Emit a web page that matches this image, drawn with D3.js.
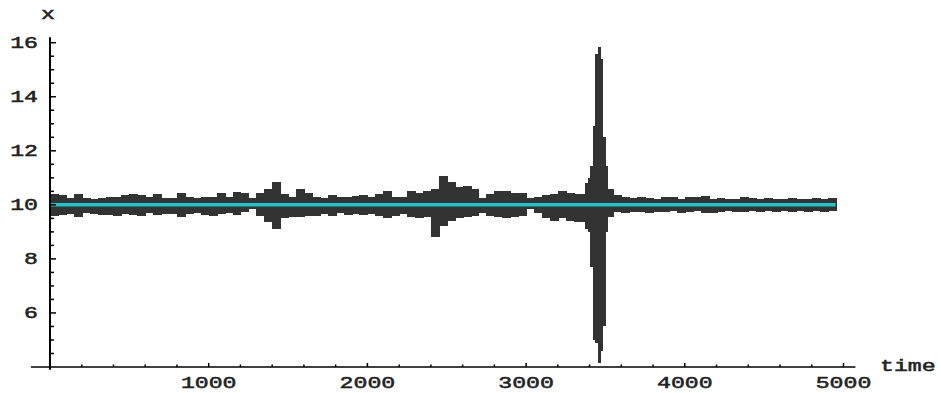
<!DOCTYPE html>
<html>
<head>
  <meta charset="utf-8">
  <title>x over time</title>
  <script src="https://d3js.org/d3.v7.min.js"></script>
  <style>
    body { margin: 0; background: #fff; }
    .lbl { font-family: "Liberation Mono", "DejaVu Sans Mono", monospace; font-size: 16px; fill: #222; stroke: #222; stroke-width: 0.5; }
  </style>
</head>
<body>
<div id="chart"></div>
<script>

// bin edges (time) of the dense signal, and its upper / lower envelope per bin
let time = [0, 50, 100, 150, 200, 250, 300, 350, 400, 450, 500, 550, 600, 650, 700, 750, 800, 850, 900, 950,
  1000, 1050, 1100, 1150, 1200, 1250, 1300, 1350, 1400, 1450, 1500, 1550, 1600, 1650, 1700, 1750, 1800, 1850, 1900, 1950,
  2000, 2050, 2100, 2150, 2200, 2250, 2300, 2350, 2400, 2450, 2500, 2550, 2600, 2650, 2700, 2750, 2800, 2850, 2900, 2950,
  3000, 3050, 3100, 3150, 3200, 3250, 3300, 3370, 3390, 3405, 3420, 3435, 3450, 3465, 3480, 3495, 3510, 3550,
  3600, 3650, 3700, 3750, 3800, 3850, 3900, 3950, 4000, 4050, 4100, 4150, 4200, 4250, 4300, 4350, 4400, 4450,
  4500, 4550, 4600, 4650, 4700, 4750, 4800, 4850, 4900, 4950];

let hi = [10.40, 10.35, 10.25, 10.40, 10.25, 10.22, 10.25, 10.28, 10.30, 10.38, 10.40, 10.35, 10.28, 10.40, 10.25, 10.25, 10.42, 10.28, 10.25, 10.30,
  10.28, 10.45, 10.30, 10.48, 10.45, 10.25, 10.45, 10.60, 10.85, 10.40, 10.30, 10.60, 10.45, 10.30, 10.25, 10.35, 10.30, 10.30, 10.32, 10.35,
  10.30, 10.40, 10.50, 10.30, 10.30, 10.50, 10.45, 10.50, 10.60, 11.05, 10.85, 10.65, 10.70, 10.60, 10.25, 10.40, 10.50, 10.50, 10.45, 10.45,
  10.25, 10.30, 10.35, 10.40, 10.50, 10.45, 10.40, 10.80, 11.00, 11.45, 12.90, 15.60, 15.85, 15.40, 12.50, 11.45, 10.60, 10.35,
  10.30, 10.25, 10.30, 10.25, 10.22, 10.28, 10.30, 10.22, 10.30, 10.28, 10.32, 10.22, 10.25, 10.20, 10.22, 10.28, 10.25, 10.20,
  10.25, 10.22, 10.20, 10.26, 10.20, 10.22, 10.26, 10.20, 10.25];

let lo = [9.60, 9.62, 9.65, 9.55, 9.68, 9.65, 9.62, 9.64, 9.60, 9.65, 9.62, 9.60, 9.68, 9.64, 9.66, 9.65, 9.55, 9.66, 9.68, 9.62,
  9.60, 9.65, 9.70, 9.62, 9.75, 9.85, 9.60, 9.35, 9.10, 9.50, 9.55, 9.55, 9.60, 9.60, 9.65, 9.60, 9.68, 9.62, 9.65, 9.62,
  9.65, 9.60, 9.50, 9.60, 9.65, 9.55, 9.50, 9.55, 8.80, 9.20, 9.40, 9.50, 9.55, 9.60, 9.70, 9.60, 9.55, 9.50, 9.55, 9.60,
  9.85, 9.70, 9.50, 9.40, 9.50, 9.40, 9.35, 9.10, 9.00, 7.70, 5.00, 4.90, 4.15, 4.60, 5.50, 9.00, 9.55, 9.75,
  9.70, 9.72, 9.75, 9.70, 9.75, 9.72, 9.78, 9.70, 9.72, 9.78, 9.70, 9.68, 9.75, 9.78, 9.75, 9.72, 9.78, 9.72,
  9.76, 9.74, 9.78, 9.72, 9.76, 9.74, 9.78, 9.72, 9.76];

// running level drawn in cyan
let levelTime = [0, 4950];
let level = [10, 10];

let xTicks = [1000, 2000, 3000, 4000, 5000];
let yTicks = [6, 8, 10, 12, 14, 16];

let width = 941,
    height = 393;

let x = d3.scaleLinear().domain([0, 5000]).range([50, 843.5]);
let y = d3.scaleLinear().domain([4, 16]).range([367, 42.7]);

let svg = d3.select("#chart").append("svg")
    .attr("width", width)
    .attr("height", height);

// dense signal as a filled high/low band
svg.append("g")
    .attr("shape-rendering", "crispEdges")
  .selectAll("rect")
    .data(hi)
  .enter().append("rect")
    .attr("x", function(d, i) { return x(time[i]); })
    .attr("width", function(d, i) { return x(time[i + 1]) - x(time[i]) + 1; })
    .attr("y", function(d) { return y(d); })
    .attr("height", function(d, i) { return y(lo[i]) - y(d); })
    .attr("fill", "#333");

svg.append("path")
    .datum(levelTime.map(function(t, i) { return [t, level[i]]; }))
    .attr("fill", "none")
    .attr("stroke", "#22c3c8")
    .attr("stroke-width", 3.5)
    .attr("d", d3.line().x(function(d) { return x(d[0]); }).y(function(d) { return y(d[1]); }));

// axes, drawn by hand to mimic the old plotting style
let ax = svg.append("g").attr("stroke", "#000");

ax.append("line")
    .attr("x1", x(0)).attr("x2", x(0))
    .attr("y1", y(16.2)).attr("y2", y(3.9))
    .attr("stroke-width", 2);

ax.append("line")
    .attr("x1", x(-120)).attr("x2", x(5075))
    .attr("y1", y(4)).attr("y2", y(4))
    .attr("stroke-width", 1.5);

// y ticks: major every 2, minor every 0.5
let yMinor = d3.range(4.5, 16.01, 0.5);
ax.selectAll(".ytick")
    .data(yMinor)
  .enter().append("line")
    .attr("x1", x(0))
    .attr("x2", function(d) { return x(0) + (d % 2 === 0 ? 6 : 4); })
    .attr("y1", function(d) { return y(d); })
    .attr("y2", function(d) { return y(d); })
    .attr("stroke-width", 1.5);

// x ticks: major every 1000, minor every 200
let xMinor = d3.range(200, 5001, 200);
ax.selectAll(".xtick")
    .data(xMinor)
  .enter().append("line")
    .attr("x1", function(d) { return x(d); })
    .attr("x2", function(d) { return x(d); })
    .attr("y1", y(4))
    .attr("y2", function(d) { return y(4) - (d % 1000 === 0 ? 4 : 2.5); })
    .attr("stroke-width", 1.5);

svg.selectAll(".ylab")
    .data(yTicks)
  .enter().append("text")
    .attr("class", "lbl")
    .attr("text-anchor", "end")
    .attr("transform", function(d) { return "translate(38," + (y(d) + 5) + ") scale(1.45,1)"; })
    .text(function(d) { return d; });

svg.selectAll(".xlab")
    .data(xTicks)
  .enter().append("text")
    .attr("class", "lbl")
    .attr("text-anchor", "middle")
    .attr("transform", function(d) { return "translate(" + x(d) + ",388) scale(1.45,1)"; })
    .text(function(d) { return d; });

svg.append("text")
    .attr("class", "lbl")
    .attr("text-anchor", "middle")
    .attr("transform", "translate(48,19) scale(1.45,1)")
    .text("x");

svg.append("text")
    .attr("class", "lbl")
    .attr("transform", "translate(880,371) scale(1.45,1)")
    .text("time");

</script>
</body>
</html>
